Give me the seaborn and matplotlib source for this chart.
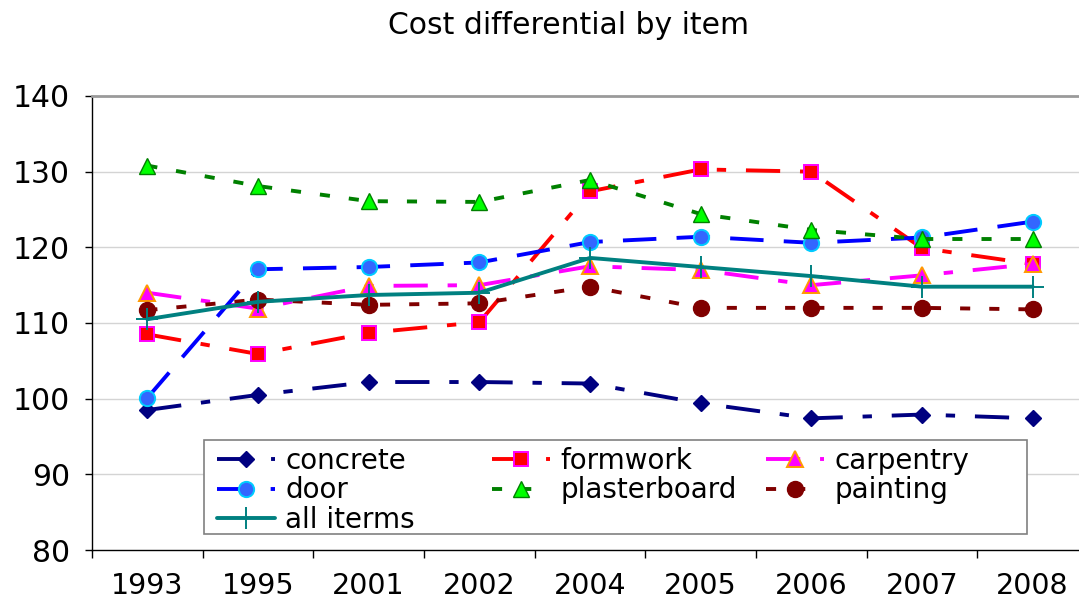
import numpy as np
import pandas as pd
import matplotlib
matplotlib.use("Agg")
import matplotlib.pyplot as plt
from matplotlib.patches import Rectangle
from matplotlib.ticker import FixedLocator
import seaborn as sns

# ---- data -------------------------------------------------------------
years = ["1993", "1995", "2001", "2002", "2004", "2005", "2006", "2007", "2008"]

concrete     = [98.5, 100.5, 102.2, 102.2, 102.0, 99.4, 97.4, 97.9, 97.4]
formwork     = [108.5, 105.9, 108.7, 110.1, 127.4, 130.3, 130.0, 119.9, 117.8]
carpentry    = [114.0, 111.9, 114.9, 115.0, 117.5, 117.0, 115.0, 116.3, 117.8]
door         = [100.1, 117.1, 117.4, 118.0, 120.7, 121.4, 120.6, 121.3, 123.4]
plasterboard = [130.8, 128.1, 126.1, 126.0, 128.9, 124.4, 122.3, 121.1, 121.1]
painting     = [111.7, 113.1, 112.4, 112.6, 114.8, 112.0, 112.0, 112.0, 111.8]
all_items    = [110.5, 112.8, 113.7, 114.0, 118.6, 117.4, 116.2, 114.8, 114.8]

labels = ["concrete", "formwork", "carpentry", "door", "plasterboard",
          "painting", "all iterms"]
series = [concrete, formwork, carpentry, door, plasterboard, painting, all_items]

# ---- styling per series ----------------------------------------------
dashdot = (0, (8.8, 5.1, 2.4, 5.1))
longdash = (0, (8.6, 5.2))
shortdash = (0, (2.6, 4.9))

styles = {
    "concrete":     dict(color="#000080", ls=dashdot, marker="D", ms=8.5,
                         mfc="#000080", mec="#000080", mew=1.0),
    "formwork":     dict(color="#FF0000", ls=dashdot, marker="s", ms=10.5,
                         mfc="#FF0000", mec="#FF00FF", mew=1.4),
    "carpentry":    dict(color="#FF00FF", ls=dashdot, marker="^", ms=11.5,
                         mfc="#FF00FF", mec="#FF9900", mew=1.4),
    "door":         dict(color="#0000FF", ls=longdash, marker="o", ms=11,
                         mfc="#3366FF", mec="#00CCFF", mew=1.4),
    "plasterboard": dict(color="#008000", ls=shortdash, marker="^", ms=11.5,
                         mfc="#00FF00", mec="#008000", mew=1.0),
    "painting":     dict(color="#800000", ls=shortdash, marker="o", ms=11.5,
                         mfc="#800000", mec="#800000", mew=1.0),
    "all iterms":   dict(color="#008080", ls="-", marker="+", ms=16,
                         mfc="#008080", mec="#008080", mew=1.4),
}

W, H = 1079, 602
sns.set_theme(style="white")
plt.rcParams["font.family"] = ["DejaVu Sans"]
plt.rcParams["text.color"] = "black"
plt.rcParams["xtick.color"] = "black"
plt.rcParams["ytick.color"] = "black"
plt.rcParams["xtick.labelcolor"] = "black"
plt.rcParams["ytick.labelcolor"] = "black"

fig = plt.figure(figsize=(W / 100, H / 100), dpi=100)
fig.patch.set_facecolor("white")
ax = fig.add_axes([92 / W, 1 - 550 / H, 996 / W, 454 / H])
ax.set_facecolor("white")

handles = {}
for name, vals in zip(labels, series):
    st = styles[name]
    df = pd.DataFrame({"year": years, "value": vals})
    n_before = len(ax.lines)
    sns.lineplot(data=df, x="year", y="value", ax=ax, errorbar=None,
                 sort=False, color=st["color"], linestyle=st["ls"],
                 linewidth=2.8, marker=st["marker"], markersize=st["ms"],
                 markerfacecolor=st["mfc"], markeredgecolor=st["mec"],
                 markeredgewidth=st["mew"], legend=False)
    line = ax.lines[n_before]
    line.set_dash_capstyle("butt")
    handles[name] = line

# ---- axes ---------------------------------------------------------------
ax.set_xlim(-0.5, len(years) - 0.5)
ax.set_ylim(80, 140)
ax.set_yticks(np.arange(80, 141, 10))
ax.set_xlabel("")
ax.set_ylabel("")

ax.grid(False)
for y in range(90, 140, 10):
    ax.axhline(y, color="#D4D4D4", lw=1.0, zorder=0.5)

ax.spines["right"].set_visible(False)
ax.spines["top"].set_color("#9A9A9A")
ax.spines["top"].set_linewidth(2.0)
ax.spines["left"].set_color("black")
ax.spines["left"].set_linewidth(1.0)
ax.spines["bottom"].set_color("black")
ax.spines["bottom"].set_linewidth(1.0)

ax.tick_params(axis="y", which="major", direction="out", length=5, width=1,
               color="black", labelcolor="black", pad=11, labelsize=21.5,
               left=True)
ax.xaxis.set_minor_locator(FixedLocator(np.arange(-0.5, len(years), 1.0)))
ax.tick_params(axis="x", which="major", length=0, pad=16, labelsize=20.5,
               labelcolor="black", bottom=True)
ax.tick_params(axis="x", which="minor", direction="out", length=6, width=1,
               color="black", bottom=True)

# ---- title --------------------------------------------------------------
fig.text(568 / W, 1 - 25 / H, "Cost differential by item", ha="center",
         va="center", fontsize=21.5, color="black")

# ---- legend: boxed, three columns ----------------------------------------
fig.patches.append(Rectangle((204 / W, 1 - 534 / H), 823 / W, 94 / H,
                             transform=fig.transFigure, facecolor="white",
                             edgecolor="#808080", linewidth=1.2, zorder=2))

columns = [
    (["concrete", "door", "all iterms"], 217),
    (["formwork", "plasterboard"], 492),
    (["carpentry", "painting"], 766),
]
for names, x0 in columns:
    leg = fig.legend([handles[n] for n in names], names, loc="upper left",
                     bbox_to_anchor=(x0 / W, 1 - 447 / H),
                     bbox_transform=fig.transFigure, frameon=False,
                     fontsize=20, borderpad=0, borderaxespad=0,
                     handlelength=2.1, handletextpad=0.35, labelspacing=0.05,
                     numpoints=1)
    for t in leg.get_texts():
        t.set_color("black")
    leg.set_zorder(3)

fig.savefig("out.png", dpi=100, facecolor="white")
